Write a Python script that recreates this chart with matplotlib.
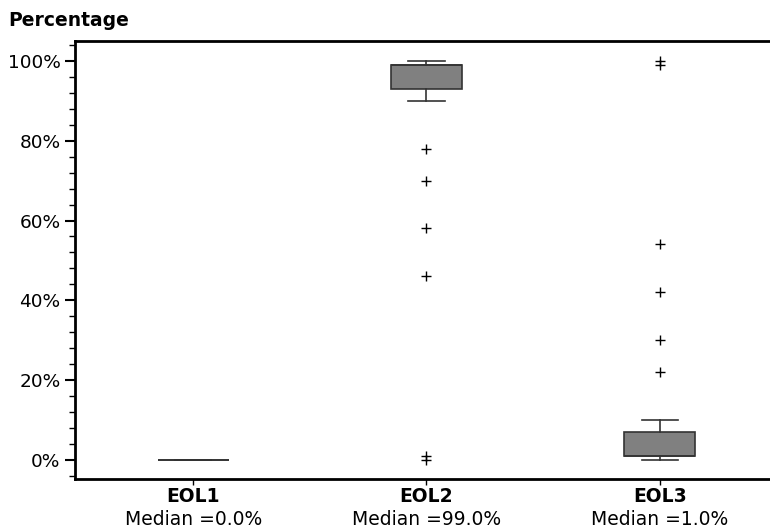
import matplotlib.pyplot as plt
from matplotlib.ticker import MultipleLocator, PercentFormatter

# box statistics per group (percent)
groups = ['EOL1', 'EOL2', 'EOL3']
medians = [0.0, 99.0, 1.0]
q1 = [0.0, 93.0, 1.0]
q3 = [0.0, 99.0, 7.0]
whis_lo = [0.0, 90.0, 0.0]
whis_hi = [0.0, 100.0, 10.0]
fliers = [
    [],
    [78, 70, 58, 46, 1, 0],
    [100, 99, 54, 42, 30, 22],
]

stats = []
for i, g in enumerate(groups):
    stats.append({'label': g, 'med': medians[i], 'q1': q1[i], 'q3': q3[i],
                  'whislo': whis_lo[i], 'whishi': whis_hi[i], 'fliers': fliers[i]})

fig = plt.figure(figsize=(7.7, 5.29), dpi=100)
ax = fig.add_axes([75 / 770, 50 / 529, 703 / 770, 438 / 529])

edge = '#333333'
ax.bxp(stats, positions=[1, 2, 3], widths=0.305, patch_artist=True,
       boxprops=dict(facecolor='#808080', edgecolor=edge, linewidth=1.2),
       medianprops=dict(color=edge, linewidth=1.2),
       whiskerprops=dict(color=edge, linewidth=1.2),
       capprops=dict(color=edge, linewidth=1.2),
       flierprops=dict(marker='+', markeredgecolor='black', markersize=7,
                       markeredgewidth=1.0, linestyle='none'),
       capwidths=0.155)

ax.set_xlim(0.493, 3.507)
ax.set_ylim(-4.8, 105)
ax.yaxis.set_major_locator(MultipleLocator(20))
ax.yaxis.set_minor_locator(MultipleLocator(4))
ax.yaxis.set_major_formatter(PercentFormatter(decimals=0))
ax.tick_params(axis='y', which='major', length=7, width=1.5, labelsize=13.3)
ax.tick_params(axis='y', which='minor', length=4, width=1)
ax.tick_params(axis='x', which='major', length=4, width=1, labelbottom=False)
ax.set_xticks([1, 2, 3])
for s in ax.spines.values():
    s.set_linewidth(2)

# two-line category labels under the axis
for i, g in enumerate(groups):
    ax.text(i + 1, -0.039, g, transform=ax.get_xaxis_transform(),
            ha='center', va='center', fontsize=13.5, fontweight='bold')
    ax.text(i + 1, -0.092, 'Median =%.1f%%' % medians[i],
            transform=ax.get_xaxis_transform(), ha='center', va='center',
            fontsize=13.5)

fig.text(8 / 770, 1 - 21 / 529, 'Percentage', ha='left', va='center',
         fontsize=13.5, fontweight='bold')

fig.savefig('out.png', dpi=100)
